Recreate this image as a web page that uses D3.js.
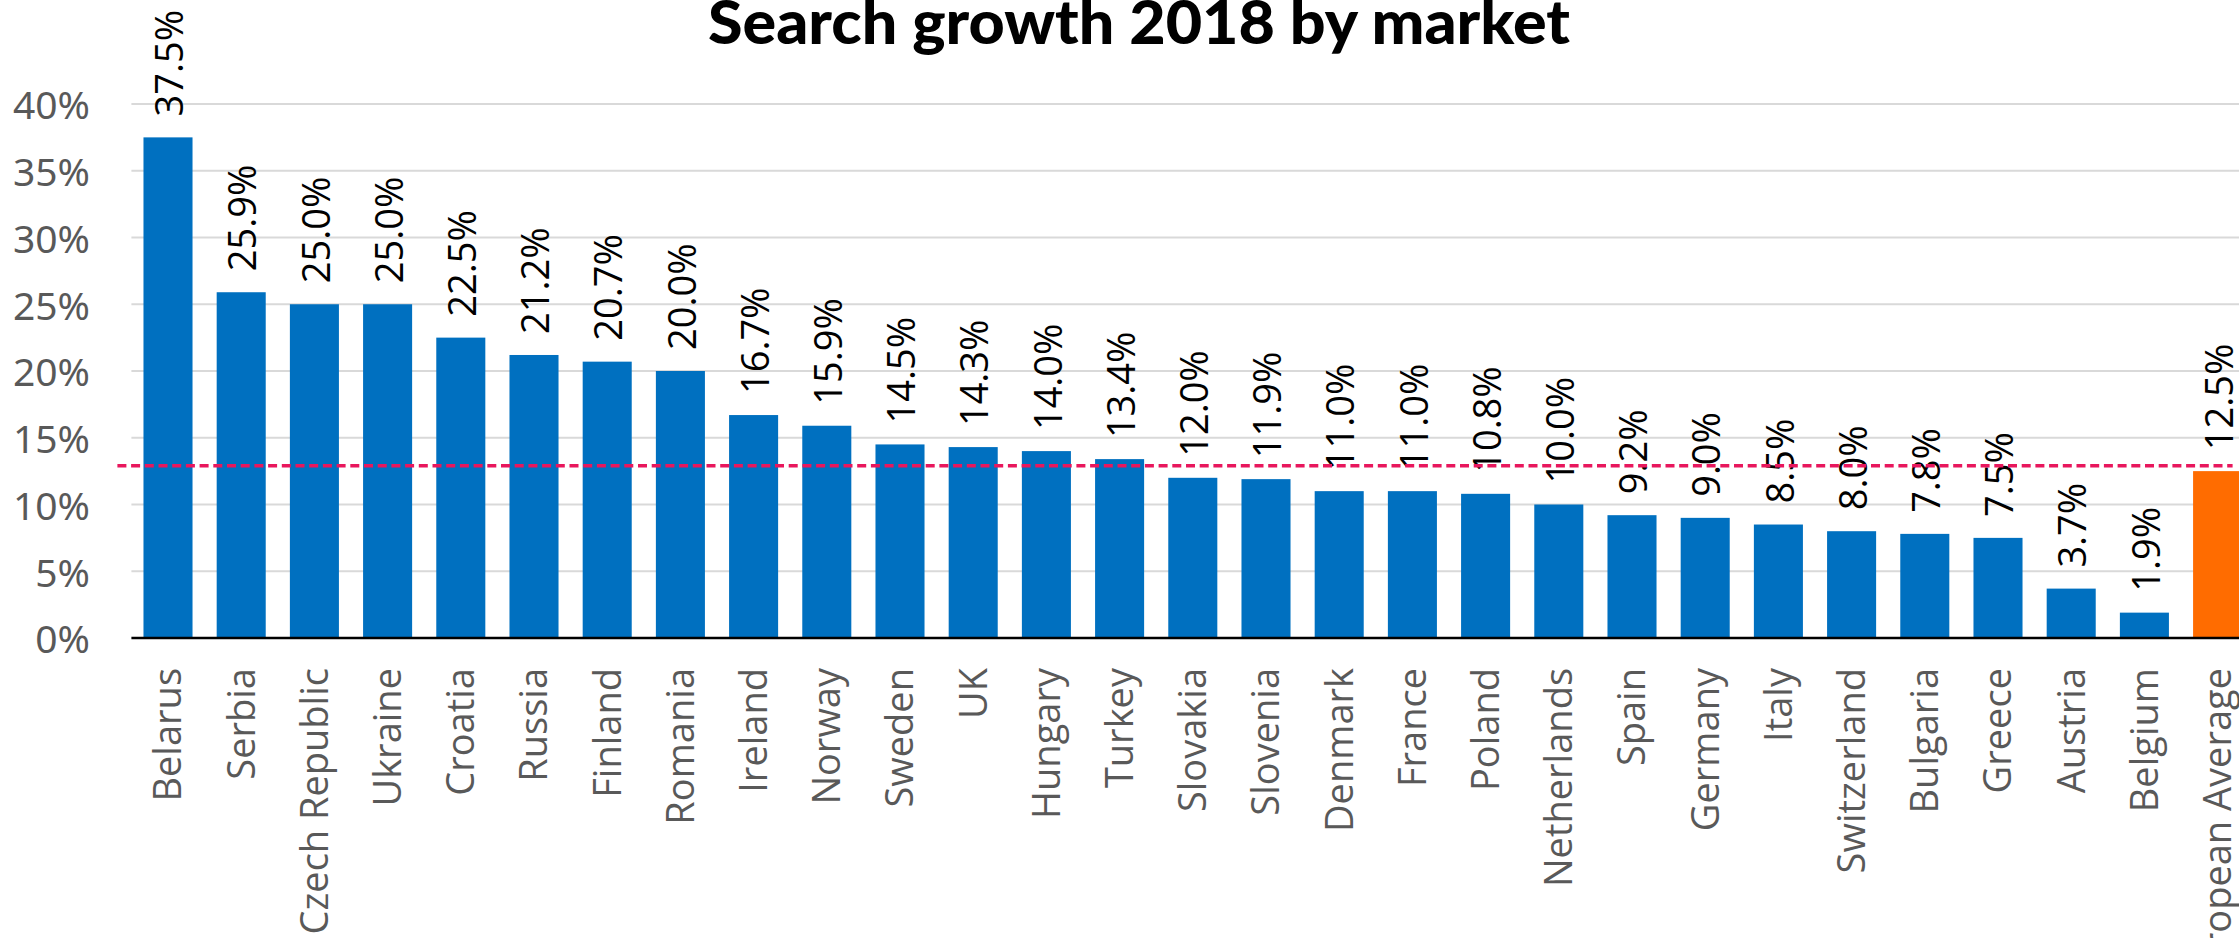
<!DOCTYPE html>
<html>
<head>
<meta charset="utf-8">
<script src="https://cdn.jsdelivr.net/npm/d3@7"></script>
<style>
  html, body { margin: 0; padding: 0; background: #ffffff; overflow: hidden; }
  svg { display: block; }
</style>
</head>
<body>
<svg id="chart" width="2239" height="938"></svg>
<script>
// Search growth per market, 2018 (percent)
const markets = [
  "Belarus", "Serbia", "Czech Republic", "Ukraine", "Croatia", "Russia",
  "Finland", "Romania", "Ireland", "Norway", "Sweden", "UK", "Hungary",
  "Turkey", "Slovakia", "Slovenia", "Denmark", "France", "Poland",
  "Netherlands", "Spain", "Germany", "Italy", "Switzerland", "Bulgaria",
  "Greece", "Austria", "Belgium", "European Average"
];
const growth = [
  37.5, 25.9, 25.0, 25.0, 22.5, 21.2, 20.7, 20.0, 16.7, 15.9, 14.5, 14.3,
  14.0, 13.4, 12.0, 11.9, 11.0, 11.0, 10.8, 10.0, 9.2, 9.0, 8.5, 8.0, 7.8,
  7.5, 3.7, 1.9, 12.5
];
const highlighted = ["European Average"];
const averageLine = 12.9;
const yTicks = [0, 5, 10, 15, 20, 25, 30, 35, 40];
const yTickLabels = ["0%", "5%", "10%", "15%", "20%", "25%", "30%", "35%", "40%"];
const titleText = "Search growth 2018 by market";

const svg = d3.select("#chart");
const W = 2239, H = 938;

const plotLeft = 131.4;
const step = 73.2;
const x = d3.scaleBand()
  .domain(markets)
  .range([plotLeft, plotLeft + markets.length * step])
  .paddingInner(0.33)
  .paddingOuter(0.165);

const y = d3.scaleLinear().domain([0, 40]).range([638, 104]);

// Title
svg.append("text")
  .attr("x", 1139)
  .attr("y", 44)
  .attr("text-anchor", "middle")
  .attr("textLength", 862)
  .attr("lengthAdjust", "spacingAndGlyphs")
  .style("font-family", "Lato, 'Noto Sans', sans-serif")
  .style("font-weight", 900)
  .style("font-size", "60px")
  .style("fill", "#000")
  .text(titleText);

// Horizontal gridlines
svg.append("g")
  .selectAll("line")
  .data(yTicks.filter(d => d > 0))
  .join("line")
  .attr("x1", plotLeft)
  .attr("x2", W)
  .attr("y1", d => y(d))
  .attr("y2", d => y(d))
  .attr("stroke", "#d9d9d9")
  .attr("stroke-width", 2);

// Y axis tick labels
const yAxis = d3.axisLeft(y)
  .tickValues(yTicks)
  .tickFormat((d, i) => yTickLabels[i])
  .tickSize(0)
  .tickPadding(0);
const gy = svg.append("g")
  .attr("transform", "translate(90,0)")
  .call(yAxis);
gy.select(".domain").remove();
gy.selectAll("text")
  .attr("dy", "0.38em")
  .style("font-family", "'Noto Sans', 'Open Sans', sans-serif")
  .style("font-size", "39px")
  .style("fill", "#595959");

// Bars
svg.append("g")
  .selectAll("rect")
  .data(markets)
  .join("rect")
  .attr("x", d => x(d))
  .attr("width", x.bandwidth())
  .attr("y", (d, i) => y(growth[i]))
  .attr("height", (d, i) => y(0) - y(growth[i]))
  .attr("fill", d => highlighted.includes(d) ? "#FF6C00" : "#0070C0");

// Baseline
svg.append("line")
  .attr("x1", plotLeft)
  .attr("x2", W)
  .attr("y1", y(0))
  .attr("y2", y(0))
  .attr("stroke", "#000")
  .attr("stroke-width", 2.5);

// Value labels above bars
svg.append("g")
  .selectAll("text")
  .data(markets)
  .join("text")
  .attr("transform", (d, i) =>
    `translate(${x(d) + x.bandwidth() / 2},${y(growth[i]) - 21}) rotate(-90)`)
  .attr("text-anchor", "start")
  .attr("dy", "0.4em")
  .style("font-family", "'Open Sans', 'Noto Sans', sans-serif")
  .style("font-size", "38px")
  .style("fill", "#000")
  .text((d, i) => growth[i].toFixed(1) + "%");

// Category labels below the axis
const xAxis = d3.axisBottom(x).tickSize(0).tickPadding(0);
const gx = svg.append("g")
  .attr("transform", `translate(0,${y(0)})`)
  .call(xAxis);
gx.select(".domain").remove();
gx.selectAll("text")
  .attr("transform", "translate(0,30) rotate(-90)")
  .attr("text-anchor", "end")
  .attr("x", 0)
  .attr("y", 0)
  .attr("dy", "0.35em")
  .style("font-family", "'Open Sans', 'Noto Sans', sans-serif")
  .style("font-size", "38px")
  .style("fill", "#595959");

// Average reference line
svg.append("line")
  .attr("x1", plotLeft - 14)
  .attr("x2", x(markets[markets.length - 1]) + x.bandwidth() / 2 + 15)
  .attr("y1", y(averageLine))
  .attr("y2", y(averageLine))
  .attr("stroke", "#E8175D")
  .attr("stroke-width", 3.5)
  .attr("stroke-dasharray", "9,4.7");
</script>
</body>
</html>
